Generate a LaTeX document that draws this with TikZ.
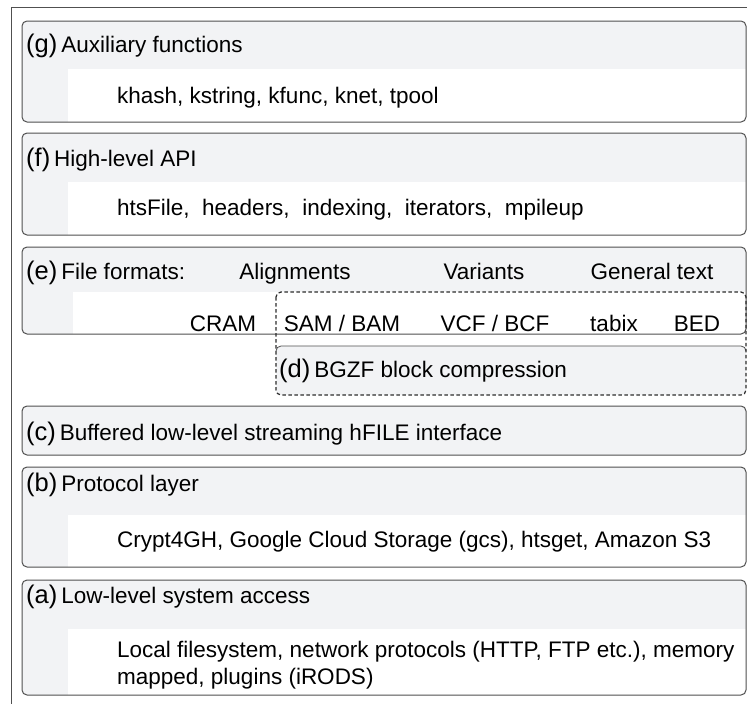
\documentclass[tikz,border=0pt]{standalone}
\usepackage{fontspec}
\setmainfont{Liberation Sans}
\usepackage{tikz}
\usetikzlibrary{positioning}
\definecolor{layerfill}{RGB}{242,243,245}
\definecolor{linegray}{RGB}{80,80,80}
\definecolor{dashgray}{RGB}{45,45,45}
\tikzset{
  layerline/.style={draw=linegray, line width=1pt, rounded corners=5pt},
  tagtext/.style={font=\fontsize{25.5}{30}\selectfont, inner sep=0pt},
  bodytext/.style={font=\fontsize{22.5}{27}\selectfont, inner sep=0pt},
}
% #1 top, #2 bottom, #3 top of white part, #4 left of white part
\newcommand{\drawlayer}[4]{
  \fill[layerfill, rounded corners=5pt] (22,#1) rectangle (746,#2);
  \begin{scope}
    \clip[rounded corners=5pt] (22,#1) rectangle (746,#2);
    \fill[white] (#4,#3) rectangle (747,#2);
  \end{scope}
  \draw[layerline] (22,#1) rectangle (746,#2);
}
\begin{document}
\begin{tikzpicture}[x=1pt, y=-1pt]
\useasboundingbox (0,0) rectangle (747,704);
\draw[linegray, line width=1pt] (747,7) -- (11,7) -- (11,704);
\drawlayer{21}{122}{69}{68}
\drawlayer{133}{235}{182}{68}
\drawlayer{247}{334}{292}{73}
% BGZF sits under the dashed group
\fill[layerfill, rounded corners=5pt] (276,346) rectangle (746,395);
\draw[linegray, line width=0.8pt, rounded corners=5pt] (276,351) -- (276,346) -- (746,346) -- (746,351);
\draw[dashgray, line width=1.2pt, dash pattern=on 3.5pt off 2.5pt, rounded corners=5pt] (276,292) rectangle (746,395);
\drawlayer{406}{455}{455}{747}
\drawlayer{467}{567}{515}{68}
\drawlayer{580}{695}{629}{68}
% (g)
\node[tagtext, anchor=base west] (gtag) at (26,52) {(g)};
\node[bodytext, right=3.5pt of gtag.base east, anchor=base west] (gtitle) {Auxiliary functions};
\node[bodytext, anchor=base west] (gbody) at (117,103) {khash, kstring, kfunc, knet, tpool};
% (f)
\node[tagtext, anchor=base west] (ftag) at (26,166) {(f)};
\node[bodytext, right=3.5pt of ftag.base east, anchor=base west] (ftitle) {High-level API};
\node[bodytext, anchor=base west] (fbody) at (117,215) {htsFile,~ headers,~ indexing,~ iterators,~ mpileup};
% (e)
\node[tagtext, anchor=base west] (etag) at (26,279) {(e)};
\node[bodytext, right=3.5pt of etag.base east, anchor=base west] (etitle) {File formats:};
\node[bodytext, anchor=base] (ealign) at (295,279) {Alignments};
\node[bodytext, anchor=base] (evar) at (484,279) {Variants};
\node[bodytext, anchor=base] (etext) at (652,279) {General text};
\node[bodytext, anchor=base] (ecram) at (223,331) {CRAM};
\node[bodytext, anchor=base] (esam) at (342,331) {SAM / BAM};
\node[bodytext, anchor=base] (evcf) at (495,331) {VCF / BCF};
\node[bodytext, anchor=base] (etabix) at (614,331) {tabix};
\node[bodytext, anchor=base] (ebed) at (697,331) {BED};
% (d)
\node[tagtext, anchor=base west] (dtag) at (279,377) {(d)};
\node[bodytext, right=3.5pt of dtag.base east, anchor=base west] (dtitle) {BGZF block compression};
% (c)
\node[tagtext, anchor=base west] (ctag) at (26,440) {(c)};
\node[bodytext, right=3.5pt of ctag.base east, anchor=base west] (ctitle) {Buffered low-level streaming hFILE interface};
% (b)
\node[tagtext, anchor=base west] (btag) at (26,491) {(b)};
\node[bodytext, right=3.5pt of btag.base east, anchor=base west] (btitle) {Protocol layer};
\node[bodytext, anchor=base west] (bbody) at (117,547) {Crypt4GH, Google Cloud Storage (gcs), htsget, Amazon S3};
% (a)
\node[tagtext, anchor=base west] (atag) at (26,603) {(a)};
\node[bodytext, right=3.5pt of atag.base east, anchor=base west] (atitle) {Low-level system access};
\node[bodytext, anchor=base west] (abody) at (117,657) {Local filesystem, network protocols (HTTP, FTP etc.), memory};
\node[bodytext, anchor=base west] (abodytwo) at ([yshift=-27pt]abody.base west) {mapped, plugins (iRODS)};
\end{tikzpicture}
\end{document}
